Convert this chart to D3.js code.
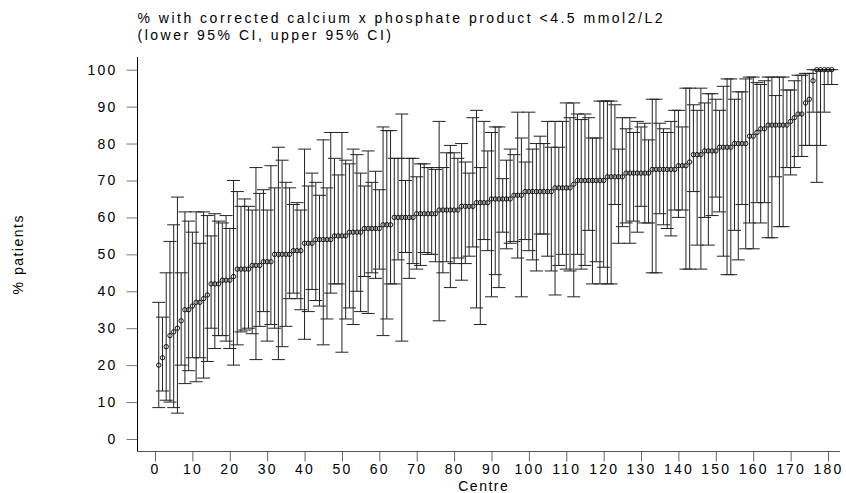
<!DOCTYPE html>
<html>
<head>
<meta charset="utf-8">
<script src="https://cdn.jsdelivr.net/npm/d3@7"></script>
<style>
  body { margin: 0; background: #fff; }
  svg { display: block; font-family: "Liberation Sans", Arial, sans-serif; }
</style>
</head>
<body>
<svg id="chart"></svg>
<script>
// % per centre, sorted (centre rank 1..181)
var pct = [20,22,25,28,29,30,32,35,35,36,37,37,38,39,42,42,42,43,43,43,
  44,46,46,46,46,47,47,47,48,48,48,50,50,50,50,50,51,51,51,53,
  53,53,54,54,54,54,54,55,55,55,55,56,56,56,56,57,57,57,57,57,
  58,58,58,60,60,60,60,60,60,61,61,61,61,61,61,62,62,62,62,62,
  62,63,63,63,63,64,64,64,64,65,65,65,65,65,65,66,66,66,67,67,
  67,67,67,67,67,67,68,68,68,68,68,69,70,70,70,70,70,70,70,70,
  71,71,71,71,71,72,72,72,72,72,72,72,73,73,73,73,73,73,73,74,
  74,74,75,77,77,77,78,78,78,78,79,79,79,79,80,80,80,80,82,82,
  83,84,84,85,85,85,85,85,85,86,87,88,88,91,92,97,100,100,100,100,100];

// upper 95% CI
var upper = [37,33,45,53.5,58,65.5,45,61.5,59,56,61.5,53,61.5,60.5,55,61,59,58.5,60.5,57,
  70,67,63,65,63,62,73.5,66.5,67.5,62,74,68,79,75.5,69.5,68,63.5,64,62,78.5,
  68.5,72,69.5,66,81,68,83,76,71.5,83,75.5,74.5,78.5,77,72,68.5,78,69.5,72.5,67.5,
  84.5,83.5,83.5,76,76,88,70,76,76,71,74.5,74.5,73.5,73.5,73,86,73.5,77.5,79.5,77.5,
  76,80,75,72,87,89,73.5,86,78,83,84.5,84.5,70.5,75.5,78.5,77,88.5,81.5,75,88.5,
  78.5,80,82,80,86,79,86,79,86,91,87,91,88,86.5,88,87,81.5,81.5,91.5,91.5,
  91.5,91.5,90.5,78.5,87,84,87,83,86,84.5,85.5,81,92,92,85.5,84,83,86,89,89,
  84.5,95,95,90.5,89,95,91,93.5,93.5,92,89,95.5,97.5,97.5,92,94,94,97.5,98,98,
  96.5,96,97,98,98,93,98,98,94.5,94.5,97,98.5,98.5,99,99,100,100,100,100,100,100];

// lower 95% CI
var lower = [8.5,13,10.5,10,8.5,7,20,15,18.5,22,15.5,22,16.5,21,30,24.5,28,28,26.5,24.5,
  20,25.5,29,29.5,30,28.5,21.5,30.5,34.5,26.5,31,30,21.5,25,30.5,38,39.5,38,35,27,
  34.5,40.5,37.5,36,25.5,32.5,39.5,42,42,23.5,32.5,35.5,31,40,34.5,44,34,45,43.5,46,
  28,32.5,42,42,48.5,26.5,50.5,43.5,47.5,46,47,50.5,50,50,48,32,45,48,41,47.5,
  49,43,47.5,49.5,52,35.5,31,54,51,38.5,44.5,41,56,51.5,53,53.5,49,38.5,54,51,
  48.5,45.5,55.5,55.5,49.5,45.5,39,47,50,46,45.5,38.5,50,46,47,56.5,42,48,42,46.5,
  42,42,63.5,53,57.5,58.5,53,59,56,63,58.5,58.5,45,45,61,58,57,55,62,60,
  62,46,46,67,52.5,46,60,52.5,60.5,65.5,61.5,49.5,44.5,44.5,56.5,48.5,63.5,51.5,58.5,51.5,
  64,58.5,64,54.5,54.5,71,57.5,57.5,73.5,71.5,73.5,76.5,76.5,79.5,79.5,88.5,69.5,79.5,88.5,96,96];

var xTicks = [0,10,20,30,40,50,60,70,80,90,100,110,120,130,140,150,160,170,180];
var yTicks = [0,10,20,30,40,50,60,70,80,90,100];
var title1 = '% with corrected calcium x phosphate product <4.5 mmol2/L2';
var title2 = '(lower 95% CI, upper 95% CI)';

var width = 846;
var height = 493;

var svg = d3.select('#chart')
  .attr('width', width)
  .attr('height', height);

// plot frame (axes are offset, Stata style)
var frame = { left: 137.5, right: 840, top: 57, bottom: 451.5 };

var x = d3.scaleLinear().domain([0, 180]).range([155, 828]);
var y = d3.scaleLinear().domain([0, 100]).range([439, 69.7]);

var data = pct.map(function (p, i) {
  return { centre: i + 1, p: p, lo: lower[i], hi: upper[i] };
});

function labelStyle(sel, ls) {
  sel.attr('fill', '#000')
    .style('font-size', '14px')
    .style('letter-spacing', ls + 'px')
    .style('font-family', '"Liberation Sans", Arial, sans-serif');
}

// titles
svg.append('text')
  .attr('x', frame.left).attr('y', 23)
  .style('font-size', '14px').style('letter-spacing', '2.5px')
  .text(title1);
svg.append('text')
  .attr('x', frame.left).attr('y', 40)
  .style('font-size', '14px').style('letter-spacing', '2.5px')
  .text(title2);

// y axis
var yAxis = d3.axisLeft(y).tickValues(yTicks).tickSize(11).tickPadding(9);
var gy = svg.append('g')
  .attr('transform', 'translate(' + frame.left + ',0)')
  .call(yAxis);
gy.select('.domain').remove();
gy.selectAll('.tick line').attr('stroke', '#777');
gy.selectAll('.tick text').call(labelStyle, 2.2);

// x axis
var xAxis = d3.axisBottom(x).tickValues(xTicks).tickSize(10).tickPadding(3);
var gx = svg.append('g')
  .attr('transform', 'translate(0,' + frame.bottom + ')')
  .call(xAxis);
gx.select('.domain').remove();
gx.selectAll('.tick line').attr('stroke', '#666');
gx.selectAll('.tick text').call(labelStyle, 2.2);

// axis lines
svg.append('line')
  .attr('x1', frame.left).attr('x2', frame.left)
  .attr('y1', frame.top).attr('y2', frame.bottom)
  .attr('stroke', '#000');
svg.append('line')
  .attr('x1', frame.left).attr('x2', frame.right)
  .attr('y1', frame.bottom).attr('y2', frame.bottom)
  .attr('stroke', '#555');

// axis titles
svg.append('text')
  .attr('x', (frame.left + 830) / 2).attr('y', 491)
  .attr('text-anchor', 'middle')
  .style('font-size', '14px').style('letter-spacing', '1.5px')
  .text('Centre');
svg.append('text')
  .attr('transform', 'translate(23,' + ((frame.top + frame.bottom) / 2) + ') rotate(-90)')
  .attr('text-anchor', 'middle')
  .style('font-size', '14px').style('letter-spacing', '1.5px')
  .text('% patients');

// error bars
var capW = 6.5;
var bars = svg.append('g').attr('stroke', '#222').attr('stroke-width', 1);
bars.selectAll('line.v')
  .data(data)
  .enter().append('line')
    .attr('class', 'v')
    .attr('x1', function (d) { return x(d.centre); })
    .attr('x2', function (d) { return x(d.centre); })
    .attr('y1', function (d) { return y(d.lo); })
    .attr('y2', function (d) { return y(d.hi); });
bars.selectAll('line.hi')
  .data(data)
  .enter().append('line')
    .attr('class', 'hi')
    .attr('x1', function (d) { return x(d.centre) - capW; })
    .attr('x2', function (d) { return x(d.centre) + capW; })
    .attr('y1', function (d) { return y(d.hi); })
    .attr('y2', function (d) { return y(d.hi); });
bars.selectAll('line.lo')
  .data(data)
  .enter().append('line')
    .attr('class', 'lo')
    .attr('x1', function (d) { return x(d.centre) - capW; })
    .attr('x2', function (d) { return x(d.centre) + capW; })
    .attr('y1', function (d) { return y(d.lo); })
    .attr('y2', function (d) { return y(d.lo); });

// points
svg.append('g')
  .selectAll('circle')
  .data(data)
  .enter().append('circle')
    .attr('cx', function (d) { return x(d.centre); })
    .attr('cy', function (d) { return y(d.p); })
    .attr('r', 2.2)
    .attr('fill', 'none')
    .attr('stroke', '#000')
    .attr('stroke-width', 0.9);
</script>
</body>
</html>
